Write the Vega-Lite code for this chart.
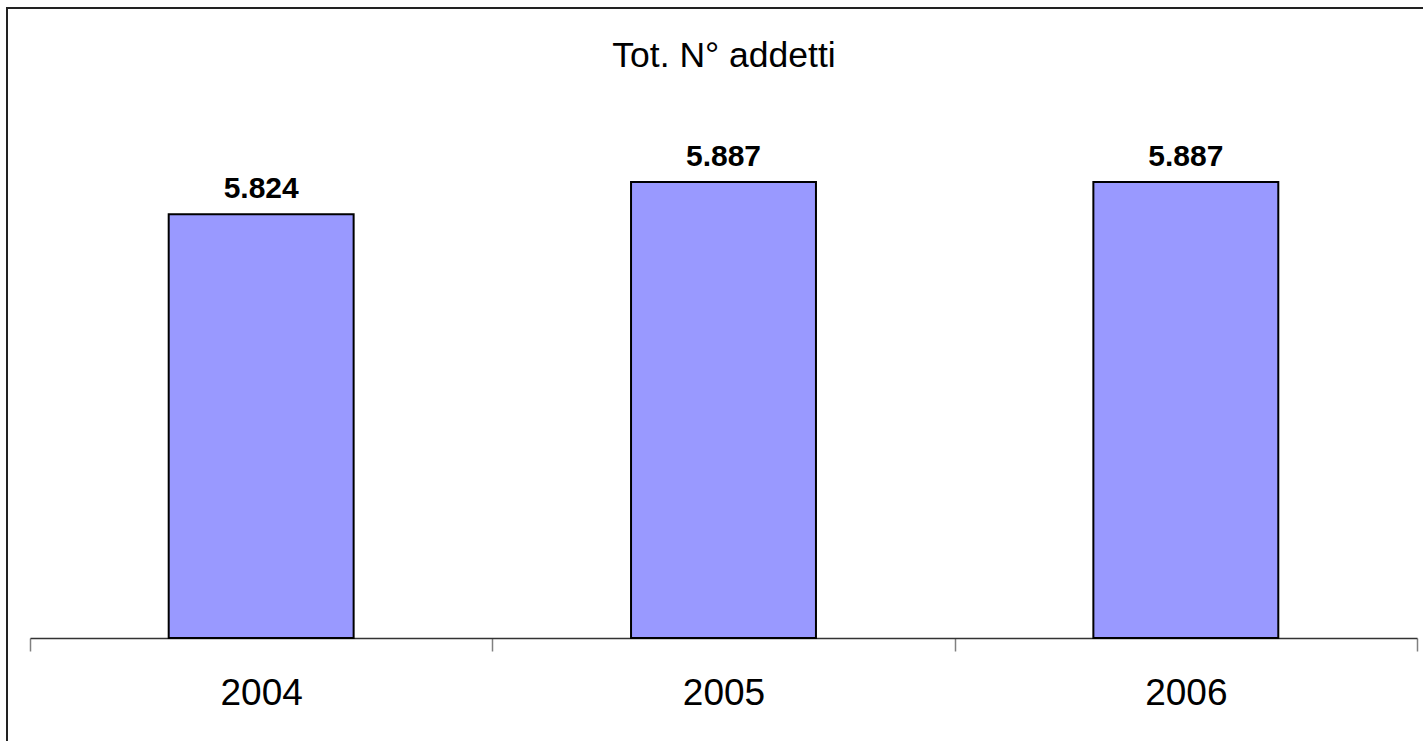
{
  "$schema": "https://vega.github.io/schema/vega-lite/v6.json",
  "autosize": {"type": "none"},
  "padding": {"left": 7, "top": 8, "right": -4, "bottom": -4},
  "width": 1420,
  "height": 737,
  "background": "white",
  "config": {
    "view": {"stroke": "#222222", "strokeWidth": 2},
    "font": "Liberation Sans",
    "locale": {"number": {"decimal": ",", "thousands": ".", "grouping": [3], "currency": ["€", ""]}}
  },
  "title": {
    "text": "Tot. N° addetti",
    "font": "Liberation Sans",
    "fontSize": 35.5,
    "fontWeight": "normal",
    "color": "black",
    "anchor": "middle",
    "baseline": "alphabetic",
    "offset": -94,
    "dx": 7
  },
  "data": {"values": [
    {"anno": "2004", "addetti": 5824},
    {"anno": "2005", "addetti": 5887},
    {"anno": "2006", "addetti": 5887}
  ]},
  "encoding": {
    "x": {
      "field": "anno", "type": "nominal", "sort": null,
      "scale": {"range": [23, 1410], "paddingInner": 0, "paddingOuter": 0},
      "axis": {
        "title": null, "labelAngle": 0, "tickBand": "extent", "offset": -107,
        "domainColor": "#333333", "domainWidth": 1.5,
        "tickColor": "#808080", "tickWidth": 1.5, "tickSize": 13,
        "labelFont": "Liberation Sans", "labelFontSize": 37, "labelColor": "black",
        "labelBaseline": "alphabetic", "labelPadding": 53, "grid": false
      }
    },
    "y": {
      "field": "addetti", "type": "quantitative",
      "scale": {"domain": [4791.9, 6225.4], "zero": false, "nice": false},
      "axis": null
    }
  },
  "layer": [
    {
      "mark": {"type": "bar", "width": {"band": 0.4}, "fill": "#9999FF", "stroke": "black", "strokeWidth": 2},
      "encoding": {"y2": {"datum": 5000}}
    },
    {
      "mark": {"type": "text", "fontWeight": "bold", "fontSize": 30, "baseline": "alphabetic", "dy": -16, "color": "black", "font": "Liberation Sans"},
      "encoding": {"text": {"field": "addetti", "type": "quantitative", "format": ",d"}}
    }
  ]
}
